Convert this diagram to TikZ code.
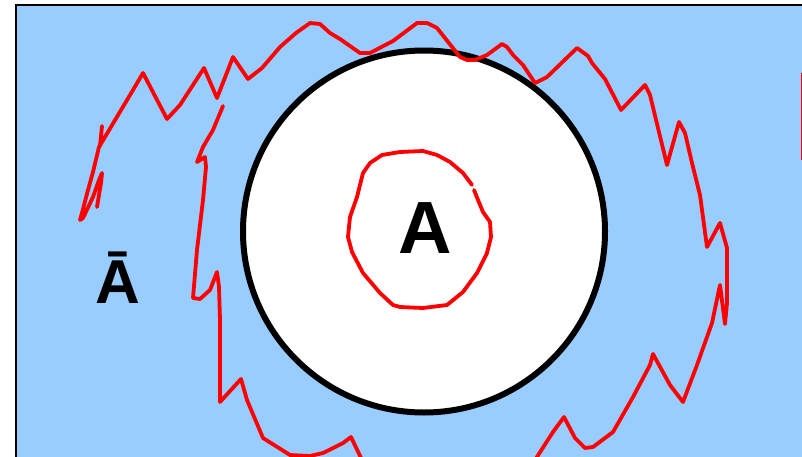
\documentclass[tikz,border=0pt]{standalone}
\usepackage{fontspec}
\setmainfont{Liberation Sans}
\definecolor{skyfill}{HTML}{99CCFF}
\definecolor{penred}{HTML}{FF0000}
\tikzset{
  redpen/.style={draw=penred, line width=3.8pt, line join=round, line cap=round},
  setlabel/.style={font=\bfseries, text=black, inner sep=0pt}
}
\begin{document}
\begin{tikzpicture}[x=1pt,y=-1pt]
\clip (0,0) rectangle (802,457);
\fill[white] (0,0) rectangle (802,457);
% universe rectangle
\draw[fill=skyfill, line width=2.5pt] (16,5) rectangle (840,500);
% set A circle
\draw[fill=white, line width=6pt] (424,231.5) circle[radius=181];
% labels
\node[setlabel, font=\bfseries\fontsize{74}{74}\selectfont] (labA) at (425,228) {A};
\node[setlabel, font=\bfseries\fontsize{62}{62}\selectfont] (labAbar) at (118,278) {Ā};
% red scribble: inner loop around A
\draw[redpen] (474,190)--(478,200)--(483,212)--(490,222)--(491,237)--(487,253)--(477,273)--(463,292)--(447,305)--(423,308)--(400,307)--(393,305)--(380,293)--(363,273)--(352,252)--(348,237)--(350,217)--(357,197)--(363,173)--(370,163)--(382,155)--(400,152)--(423,151)--(437,155)--(450,162)--(463,173)--(472,185);
% red scribble: outer stroke 1
\draw[redpen] (102,126)--(100,146);
\draw[redpen] (97,207)--(101,183)--(102,173)--(99,180)--(93,197)--(83,218)--(80,220)--(82,213)--(88,190)--(93,172)--(99,147)--(133,90)--(143,73)--(167,119)--(180,105)--(204,68)--(217,98)--(233,57)--(248,79)--(262,68)--(280,47)--(296,33)--(310,23)--(320,24)--(330,33)--(340,39)--(360,53)--(370,53)--(393,41)--(417,23)--(427,23)--(437,28)--(460,57)--(467,60)--(475,60)--(487,55)--(502,44)--(507,47)--(513,55)--(523,65)--(535,83)--(547,77)--(577,48)--(588,56)--(592,63)--(605,79)--(621,110)--(645,85)--(650,95)--(667,165)--(679,122)--(685,133)--(692,163)--(700,195)--(707,247)--(720,223)--(727,248)--(727,303)--(725,324)--(720,285)--(712,323)--(697,365)--(683,402)--(670,385)--(653,354)--(650,365)--(633,397)--(613,432)--(593,447)--(585,448)--(575,438)--(564,417)--(553,432)--(535,460);
% red scribble: outer stroke 2
\draw[redpen] (223,106)--(213,130)--(203,147)--(197,162)--(205,157)--(206,167)--(203,200)--(197,250)--(193,298)--(200,299)--(210,290)--(217,272)--(219,287)--(220,320)--(220,402)--(241,379)--(247,400)--(263,438)--(290,455)--(310,456)--(323,453)--(343,443)--(351,437)--(362,460);
% red scribble at right edge
\draw[redpen, line cap=butt] (802.5,73)--(802.5,160);
\end{tikzpicture}
\end{document}
